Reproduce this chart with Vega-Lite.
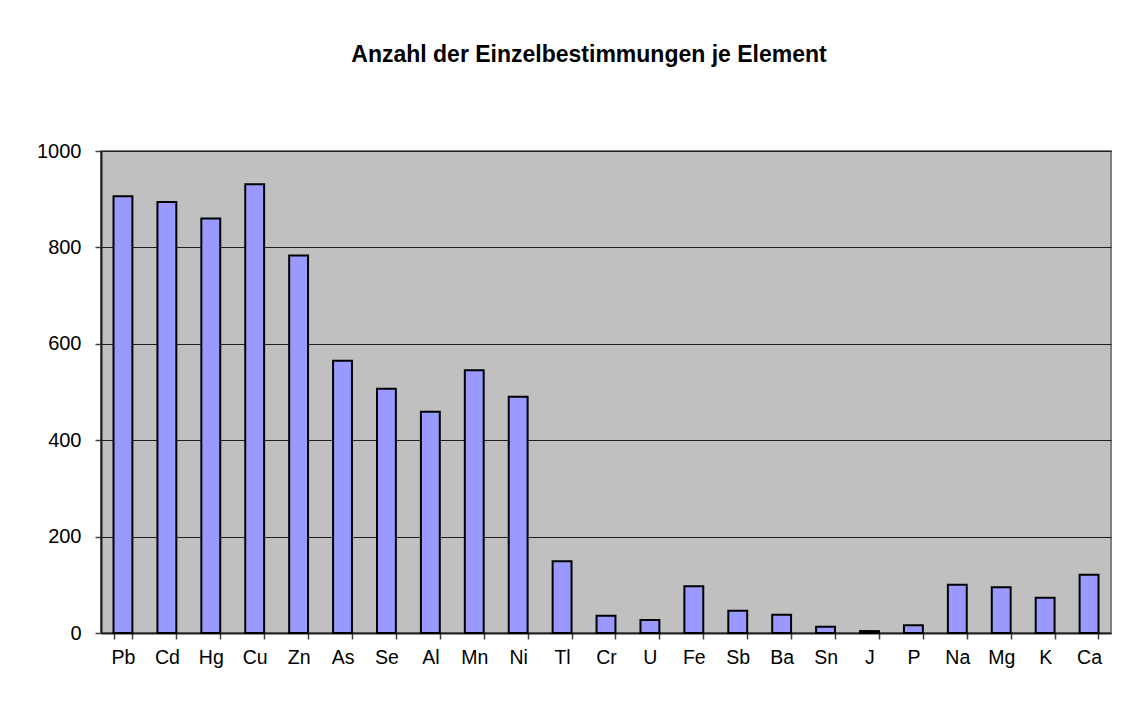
{
  "$schema": "https://vega.github.io/schema/vega-lite/v6.json",
  "width": 1010,
  "height": 482,
  "autosize": {"type": "none"},
  "padding": {"left": 101, "top": 151, "right": 14, "bottom": 84},
  "background": "white",
  "title": {
    "text": "Anzahl der Einzelbestimmungen je Element",
    "font": "Liberation Sans",
    "fontSize": 23,
    "fontWeight": "bold",
    "color": "black",
    "anchor": "middle",
    "dx": -17,
    "offset": 74
  },
  "config": {
    "view": {"fill": "#C0C0C0", "stroke": "#808080", "strokeWidth": 2},
    "axis": {
      "labelFont": "Liberation Sans",
      "labelFontSize": 20,
      "labelColor": "black",
      "domainColor": "#404040",
      "domainWidth": 2,
      "tickColor": "#404040",
      "tickWidth": 1.5,
      "tickSize": 6,
      "title": null
    }
  },
  "data": {
    "values": [
      {"element": "Pb", "anzahl": 906},
      {"element": "Cd", "anzahl": 894},
      {"element": "Hg", "anzahl": 860},
      {"element": "Cu", "anzahl": 931},
      {"element": "Zn", "anzahl": 783},
      {"element": "As", "anzahl": 565},
      {"element": "Se", "anzahl": 507},
      {"element": "Al", "anzahl": 459},
      {"element": "Mn", "anzahl": 545},
      {"element": "Ni", "anzahl": 490},
      {"element": "Tl", "anzahl": 149},
      {"element": "Cr", "anzahl": 36},
      {"element": "U", "anzahl": 27},
      {"element": "Fe", "anzahl": 97},
      {"element": "Sb", "anzahl": 46},
      {"element": "Ba", "anzahl": 38},
      {"element": "Sn", "anzahl": 13},
      {"element": "J", "anzahl": 4},
      {"element": "P", "anzahl": 16},
      {"element": "Na", "anzahl": 100},
      {"element": "Mg", "anzahl": 95},
      {"element": "K", "anzahl": 73},
      {"element": "Ca", "anzahl": 121}
    ]
  },
  "mark": {"type": "bar", "fill": "#9999FF", "stroke": "black", "strokeWidth": 2},
  "encoding": {
    "x": {
      "field": "element",
      "type": "nominal",
      "sort": null,
      "scale": {"paddingInner": 0.57, "paddingOuter": 0.285},
      "axis": {"labelAngle": 0, "labelFontSize": 19.5, "tickBand": "extent", "labelPadding": 9, "domainColor": "#202020"}
    },
    "y": {
      "field": "anzahl",
      "type": "quantitative",
      "scale": {"domain": [0, 1000], "nice": false},
      "axis": {
        "values": [0, 200, 400, 600, 800, 1000],
        "format": "d",
        "grid": true,
        "gridColor": "#202020",
        "gridWidth": 1,
        "labelPadding": 14,
        "domainColor": "#202020"
      }
    }
  }
}
